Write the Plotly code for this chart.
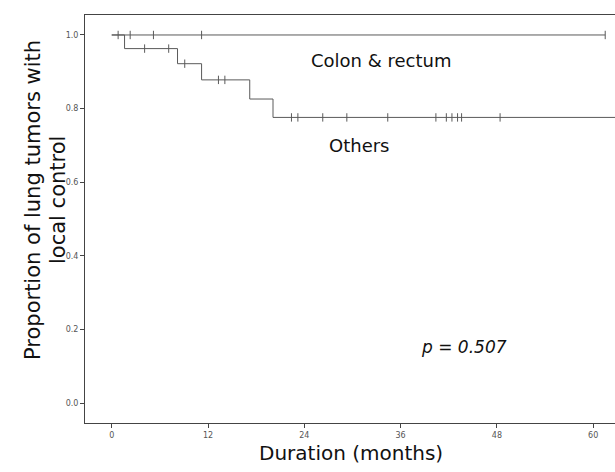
import plotly.graph_objects as go

# Kaplan-Meier local control, lung tumours by primary site
colon_times = [0.0, 61.5]
colon_surv = [1.0, 1.0]
colon_censor_t = [0.8, 2.3, 5.2, 11.2, 61.5]

others_times = [0.0, 1.6, 8.2, 11.2, 17.2, 20.1, 63.5]
others_surv = [1.0, 0.963, 0.922, 0.878, 0.826, 0.776, 0.776]
others_censor_t = [4.1, 7.1, 9.1, 13.3, 14.1, 22.4, 23.2, 26.3, 29.3, 34.4,
                   40.4, 41.7, 42.4, 43.1, 43.6, 48.4]

x_ticks = [0, 12, 24, 36, 48, 60]
y_ticks = [0.0, 0.2, 0.4, 0.6, 0.8, 1.0]

LINE = "#5a5a5a"
FONT = "DejaVu Sans"


def level_at(times, surv, t):
    s = surv[0]
    for ti, si in zip(times, surv):
        if ti <= t:
            s = si
    return s


fig = go.Figure()

fig.add_trace(go.Scatter(x=colon_times, y=colon_surv, mode="lines",
                         line=dict(color=LINE, width=1, shape="hv"),
                         showlegend=False, hoverinfo="skip"))
fig.add_trace(go.Scatter(x=others_times, y=others_surv, mode="lines",
                         line=dict(color=LINE, width=1, shape="hv"),
                         showlegend=False, hoverinfo="skip"))

# censoring marks
fig.add_trace(go.Scatter(
    x=colon_censor_t,
    y=[level_at(colon_times, colon_surv, t) for t in colon_censor_t],
    mode="markers",
    marker=dict(symbol="line-ns", size=6, line=dict(color=LINE, width=1)),
    showlegend=False, hoverinfo="skip"))
fig.add_trace(go.Scatter(
    x=others_censor_t,
    y=[level_at(others_times, others_surv, t) for t in others_censor_t],
    mode="markers",
    marker=dict(symbol="line-ns", size=6, line=dict(color=LINE, width=1)),
    showlegend=False, hoverinfo="skip"))

ann_font = dict(family=FONT, size=18, color="#111")
fig.add_annotation(x=33.6, y=0.932, text="Colon &amp; rectum", showarrow=False,
                   font=ann_font, xanchor="center", yanchor="middle")
fig.add_annotation(x=30.9, y=0.701, text="Others", showarrow=False,
                   font=ann_font, xanchor="center", yanchor="middle")
fig.add_annotation(x=43.9, y=0.152, text="<i>p = 0.507</i>", showarrow=False,
                   font=dict(family=FONT, size=17, color="#111"),
                   xanchor="center", yanchor="middle")

# axis titles
fig.add_annotation(x=29.8, y=-0.073, xref="x", yref="paper",
                   text="Duration (months)", showarrow=False,
                   xanchor="center", yanchor="middle",
                   font=dict(family=FONT, size=20, color="#111"))
fig.add_annotation(x=-0.0981, y=0.5466, xref="paper", yref="paper",
                   text="Proportion of lung tumors with", textangle=-90,
                   xanchor="center", yanchor="middle",
                   showarrow=False, font=dict(family=FONT, size=21, color="#111"))
fig.add_annotation(x=-0.0509, y=0.5466, xref="paper", yref="paper",
                   text="local control", textangle=-90,
                   xanchor="center", yanchor="middle",
                   showarrow=False, font=dict(family=FONT, size=21, color="#111"))

tick_font = dict(family=FONT, size=8, color="#555")
fig.update_xaxes(range=[-3.33, 62.72], tickvals=x_ticks,
                 ticktext=[str(v) for v in x_ticks],
                 showline=True, linecolor="#444", linewidth=1, mirror=True,
                 ticks="outside", ticklen=4, tickcolor="#444",
                 showgrid=False, zeroline=False, tickfont=tick_font)
fig.update_yaxes(range=[-0.0543, 1.0543], tickvals=y_ticks,
                 ticktext=[f"{v:.1f}" for v in y_ticks],
                 showline=True, linecolor="#444", linewidth=1, mirror=False,
                 ticks="outside", ticklen=4, tickcolor="#444",
                 showgrid=False, zeroline=False, tickfont=tick_font)

fig.update_layout(width=615, height=472,
                  margin=dict(l=85, r=0, t=15, b=49),
                  plot_bgcolor="white", paper_bgcolor="white")

fig.write_html("out.html")
